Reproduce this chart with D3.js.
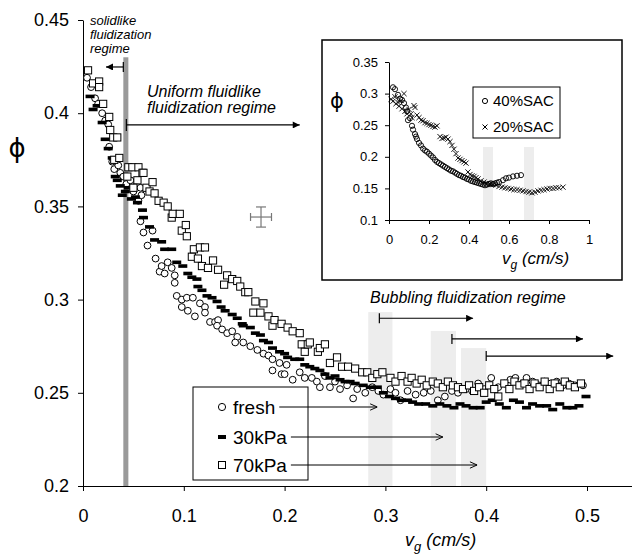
<!DOCTYPE html>
<html>
<head>
<meta charset="utf-8">
<script src="https://cdn.jsdelivr.net/npm/d3@7"></script>
<style>
  body { margin: 0; background: #fff; }
  svg { display: block; font-family: "Liberation Sans", Arial, sans-serif; }
  .axis path, .axis line { stroke: #000; stroke-width: 1; }
  .axis text { fill: #000; }
</style>
</head>
<body>
<div id="chart"></div>
<script>
// ---- data, [vg (cm/s), phi] ----
const fresh = [
  [0.004,0.419],[0.008,0.414],[0.012,0.408],[0.015,0.405],[0.019,0.400],[0.022,0.396],[0.025,0.394],[0.026,0.382],
  [0.029,0.374],[0.031,0.370],[0.035,0.372],[0.037,0.368],[0.040,0.366],[0.043,0.362],[0.047,0.364],[0.050,0.358],
  [0.053,0.361],[0.055,0.353],[0.057,0.360],[0.058,0.356],[0.057,0.342],[0.060,0.336],[0.064,0.329],[0.069,0.337],
  [0.072,0.322],[0.076,0.315],[0.078,0.318],[0.081,0.314],[0.084,0.320],[0.088,0.317],[0.091,0.313],[0.091,0.309],
  [0.093,0.302],[0.098,0.300],[0.103,0.301],[0.109,0.301],[0.098,0.296],[0.104,0.294],[0.111,0.291],[0.116,0.298],
  [0.121,0.296],[0.121,0.293],[0.126,0.288],[0.131,0.288],[0.134,0.289],[0.133,0.286],[0.138,0.284],[0.143,0.282],
  [0.148,0.283],[0.153,0.280],[0.151,0.277],[0.159,0.277],[0.166,0.275],[0.173,0.273],[0.179,0.271],[0.184,0.270],
  [0.188,0.268],[0.195,0.266],[0.202,0.265],[0.188,0.262],[0.197,0.260],[0.200,0.260],[0.208,0.257],[0.215,0.261],
  [0.220,0.258],[0.227,0.258],[0.232,0.256],[0.235,0.253],[0.245,0.253],[0.240,0.259],[0.250,0.256],[0.255,0.252],
  [0.262,0.254],[0.268,0.247],[0.272,0.252],[0.280,0.250],[0.287,0.253],[0.293,0.251],[0.298,0.249],[0.305,0.252],
  [0.310,0.250],[0.315,0.246],[0.322,0.251],[0.330,0.249],[0.338,0.250],[0.345,0.251],[0.352,0.246],[0.359,0.248],
  [0.366,0.251],[0.372,0.250],[0.380,0.252],[0.386,0.251],[0.392,0.255],[0.398,0.252],[0.405,0.258],[0.412,0.253],
  [0.418,0.255],[0.424,0.257],[0.429,0.258],[0.436,0.255],[0.440,0.258],[0.446,0.256],[0.452,0.254],[0.458,0.256],
  [0.464,0.255],[0.470,0.256],[0.476,0.254],[0.482,0.255],[0.488,0.254],[0.496,0.254]
];
const kPa30 = [
  [0.007,0.409],[0.010,0.402],[0.014,0.404],[0.019,0.395],[0.022,0.386],[0.025,0.381],[0.029,0.376],[0.032,0.366],
  [0.034,0.364],[0.037,0.361],[0.039,0.356],[0.042,0.358],[0.045,0.360],[0.048,0.354],[0.052,0.355],[0.054,0.352],
  [0.059,0.348],[0.060,0.344],[0.066,0.339],[0.071,0.332],[0.078,0.331],[0.081,0.327],[0.088,0.327],[0.093,0.320],
  [0.099,0.318],[0.104,0.314],[0.108,0.312],[0.113,0.311],[0.114,0.307],[0.118,0.305],[0.123,0.302],[0.128,0.301],
  [0.133,0.299],[0.137,0.296],[0.141,0.294],[0.148,0.292],[0.153,0.290],[0.158,0.287],[0.159,0.286],[0.166,0.285],
  [0.171,0.282],[0.176,0.281],[0.179,0.278],[0.184,0.277],[0.188,0.274],[0.195,0.272],[0.200,0.271],[0.203,0.269],
  [0.210,0.268],[0.215,0.268],[0.220,0.265],[0.225,0.264],[0.230,0.263],[0.235,0.262],[0.240,0.260],[0.245,0.258],
  [0.250,0.259],[0.255,0.257],[0.260,0.256],[0.265,0.256],[0.270,0.255],[0.278,0.254],[0.285,0.253],[0.292,0.253],
  [0.298,0.250],[0.304,0.248],[0.310,0.247],[0.316,0.246],[0.322,0.246],[0.327,0.245],[0.333,0.244],[0.340,0.244],
  [0.347,0.243],[0.354,0.244],[0.361,0.243],[0.368,0.242],[0.374,0.244],[0.380,0.243],[0.387,0.242],[0.394,0.242],
  [0.400,0.245],[0.406,0.246],[0.413,0.244],[0.420,0.242],[0.427,0.246],[0.433,0.245],[0.440,0.242],[0.446,0.244],
  [0.453,0.243],[0.460,0.243],[0.466,0.241],[0.473,0.244],[0.480,0.242],[0.486,0.242],[0.492,0.243],[0.499,0.248]
];
const kPa70 = [
  [0.005,0.423],[0.010,0.416],[0.016,0.417],[0.016,0.414],[0.020,0.405],[0.026,0.398],[0.027,0.391],[0.030,0.387],
  [0.034,0.387],[0.031,0.375],[0.036,0.376],[0.044,0.366],[0.045,0.371],[0.049,0.371],[0.054,0.364],[0.055,0.371],
  [0.059,0.368],[0.050,0.360],[0.060,0.368],[0.063,0.360],[0.066,0.358],[0.069,0.363],[0.071,0.357],[0.075,0.353],
  [0.080,0.352],[0.084,0.350],[0.088,0.344],[0.089,0.346],[0.096,0.346],[0.098,0.337],[0.102,0.340],[0.103,0.334],
  [0.108,0.323],[0.110,0.327],[0.114,0.322],[0.116,0.328],[0.118,0.318],[0.121,0.328],[0.124,0.317],[0.129,0.321],
  [0.134,0.316],[0.140,0.308],[0.143,0.313],[0.148,0.311],[0.153,0.310],[0.156,0.307],[0.161,0.304],[0.164,0.304],
  [0.169,0.293],[0.171,0.299],[0.176,0.293],[0.179,0.298],[0.184,0.291],[0.188,0.286],[0.190,0.289],[0.197,0.287],
  [0.203,0.285],[0.208,0.283],[0.215,0.282],[0.217,0.276],[0.220,0.272],[0.223,0.276],[0.225,0.277],[0.233,0.272],
  [0.235,0.274],[0.240,0.276],[0.245,0.266],[0.252,0.269],[0.257,0.264],[0.263,0.264],[0.270,0.263],[0.277,0.261],
  [0.282,0.261],[0.287,0.258],[0.292,0.260],[0.297,0.261],[0.305,0.258],[0.310,0.256],[0.316,0.259],[0.322,0.256],
  [0.326,0.258],[0.331,0.255],[0.336,0.257],[0.341,0.254],[0.347,0.256],[0.352,0.255],[0.357,0.253],[0.362,0.256],
  [0.367,0.254],[0.372,0.253],[0.377,0.252],[0.383,0.254],[0.388,0.251],[0.393,0.253],[0.398,0.250],[0.403,0.254],
  [0.408,0.252],[0.412,0.248],[0.418,0.255],[0.423,0.252],[0.428,0.256],[0.433,0.254],[0.438,0.255],[0.443,0.252],
  [0.448,0.255],[0.453,0.253],[0.458,0.256],[0.463,0.252],[0.468,0.255],[0.473,0.253],[0.478,0.256],[0.483,0.254],
  [0.488,0.253],[0.494,0.255]
];
// inset
const sac40 = [
  [0.02,0.310],[0.03,0.307],[0.045,0.298],[0.055,0.292],[0.065,0.290],[0.075,0.285],[0.085,0.278],[0.09,0.272],
  [0.095,0.258],[0.105,0.261],[0.115,0.249],[0.12,0.243],[0.13,0.236],[0.135,0.232],[0.14,0.228],[0.15,0.222],
  [0.16,0.218],[0.17,0.213],[0.18,0.210],[0.19,0.208],[0.2,0.205],[0.21,0.202],[0.22,0.199],[0.23,0.195],
  [0.24,0.192],[0.25,0.190],[0.26,0.188],[0.27,0.186],[0.28,0.184],[0.29,0.182],[0.30,0.180],[0.31,0.178],
  [0.32,0.177],[0.33,0.175],[0.34,0.173],[0.35,0.171],[0.36,0.170],[0.37,0.168],[0.38,0.167],[0.39,0.165],
  [0.40,0.164],[0.41,0.162],[0.42,0.161],[0.43,0.160],[0.44,0.159],[0.45,0.158],[0.46,0.157],[0.47,0.156],
  [0.48,0.155],[0.49,0.156],[0.50,0.157],[0.51,0.158],[0.52,0.157],[0.53,0.158],[0.54,0.159],[0.55,0.160],
  [0.57,0.163],[0.585,0.166],[0.60,0.167],[0.62,0.169],[0.64,0.170],[0.66,0.171]
];
const sac20 = [
  [0.01,0.291],[0.02,0.288],[0.03,0.295],[0.035,0.284],[0.045,0.286],[0.05,0.280],[0.06,0.289],[0.065,0.276],
  [0.075,0.300],[0.08,0.272],[0.09,0.268],[0.10,0.275],[0.11,0.268],[0.115,0.262],[0.125,0.281],[0.13,0.278],
  [0.14,0.266],[0.15,0.262],[0.16,0.258],[0.17,0.257],[0.18,0.254],[0.19,0.253],[0.20,0.251],[0.21,0.250],
  [0.22,0.248],[0.23,0.247],[0.24,0.249],[0.255,0.232],[0.265,0.229],[0.275,0.230],[0.285,0.231],[0.295,0.228],
  [0.305,0.224],[0.315,0.218],[0.325,0.212],[0.335,0.205],[0.345,0.198],[0.355,0.196],[0.365,0.194],[0.375,0.192],
  [0.385,0.190],[0.395,0.176],[0.405,0.172],[0.415,0.170],[0.425,0.169],[0.435,0.167],[0.445,0.165],[0.46,0.162],
  [0.475,0.160],[0.49,0.158],[0.505,0.157],[0.52,0.156],[0.535,0.155],[0.55,0.153],[0.565,0.152],[0.58,0.151],
  [0.595,0.150],[0.61,0.149],[0.625,0.148],[0.64,0.148],[0.655,0.147],[0.67,0.146],[0.685,0.145],[0.70,0.144],
  [0.715,0.143],[0.73,0.144],[0.745,0.146],[0.76,0.147],[0.775,0.148],[0.79,0.149],[0.805,0.150],[0.82,0.150],
  [0.835,0.151],[0.85,0.151],[0.87,0.152]
];

const xTicks = [0, 0.1, 0.2, 0.3, 0.4, 0.5];
const yTicks = [0.2, 0.25, 0.3, 0.35, 0.4, 0.45];
const insetXTicks = [0, 0.2, 0.4, 0.6, 0.8, 1];
const insetYTicks = [0.1, 0.15, 0.2, 0.25, 0.3, 0.35];
const legendLabels = ["fresh", "30kPa", "70kPa"];
const insetLegendLabels = ["40%SAC", "20%SAC"];

// regime annotations, in data units
const solidLine = [0.040, 0.045, 0.430];                 // x0, x1, top phi
const bubblingBands = [[0.283, 0.307, 0.2933], [0.345, 0.370, 0.2832], [0.375, 0.400, 0.274]];
const bubblingArrows = [[0.294, 0.387, 0.290], [0.366, 0.496, 0.2789], [0.400, 0.526, 0.2697]];
const legendArrowEnds = [0.292, 0.357, 0.391];
const insetBands = [[0.47, 0.52], [0.675, 0.725]];
const insetBandTop = 0.2155;
const errBar = [0.1766, 0.3443, 0.0104, 0.0054];         // x, y, half-width, half-height

const W = 632, H = 557;
const svg = d3.select("#chart").append("svg").attr("width", W).attr("height", H);
svg.append("rect").attr("width", W).attr("height", H).attr("fill", "#fff");

const defs = svg.append("defs");
defs.append("marker").attr("id", "tri").attr("viewBox", "0 0 10 10")
  .attr("refX", 10).attr("refY", 5).attr("markerWidth", 9).attr("markerHeight", 7)
  .attr("markerUnits", "userSpaceOnUse").attr("orient", "auto")
  .append("path").attr("d", "M0,0L10,5L0,10Z").attr("fill", "#000");
defs.append("marker").attr("id", "open").attr("viewBox", "0 0 10 10")
  .attr("refX", 10).attr("refY", 5).attr("markerWidth", 8).attr("markerHeight", 8)
  .attr("markerUnits", "userSpaceOnUse").attr("orient", "auto")
  .append("path").attr("d", "M1,1L10,5L1,9").attr("fill", "none").attr("stroke", "#000").attr("stroke-width", 1.2);

// ---- main scales ----
const x = d3.scaleLinear().domain([0, 0.5]).range([83, 587]);
const y = d3.scaleLinear().domain([0.2, 0.45]).range([486, 20]);
const xAxisScale = x.copy().domain([0, x.invert(W)]).range([83, W]);

// shaded bubbling bands and the solidlike boundary line
svg.selectAll(".band").data(bubblingBands).enter().append("rect")
  .attr("x", d => x(d[0])).attr("width", d => x(d[1]) - x(d[0]))
  .attr("y", d => y(d[2])).attr("height", d => y(0.2) - y(d[2]))
  .attr("fill", "#ededed");
svg.append("rect")
  .attr("x", x(solidLine[0])).attr("width", x(solidLine[1]) - x(solidLine[0]))
  .attr("y", y(solidLine[2])).attr("height", y(0.2) - y(solidLine[2]))
  .attr("fill", "#9a9a9a");

// axes
svg.append("g").attr("class", "axis")
  .attr("transform", `translate(0,${y(0.2)})`)
  .call(d3.axisBottom(xAxisScale).tickValues(xTicks).tickSize(5).tickSizeOuter(0).tickPadding(18).tickFormat(d => String(d)))
  .call(g => g.selectAll("text").attr("font-size", 18));
svg.append("g").attr("class", "axis")
  .attr("transform", `translate(${x(0)},0)`)
  .call(d3.axisLeft(y).tickValues(yTicks).tickSize(5).tickSizeOuter(0).tickPadding(9).tickFormat(d => String(d)))
  .call(g => g.selectAll("text").attr("font-size", 18));

svg.append("text").attr("x", 17).attr("y", 157).attr("text-anchor", "middle")
  .attr("font-family", "DejaVu Sans").attr("font-size", 26).text("\u03D5");
const xt = svg.append("text").attr("x", 405).attr("y", 546).attr("font-size", 18).attr("font-style", "italic");
xt.append("tspan").text("v");
xt.append("tspan").attr("font-size", 13).attr("dy", 5).text("g");
xt.append("tspan").attr("dy", -5).text(" (cm/s)");

// error bar symbol
const eb = svg.append("g").attr("stroke", "#777").attr("stroke-width", 1.2);
const [ex, ey, ew, eh] = errBar;
eb.append("line").attr("x1", x(ex - ew)).attr("x2", x(ex + ew)).attr("y1", y(ey)).attr("y2", y(ey));
eb.append("line").attr("x1", x(ex)).attr("x2", x(ex)).attr("y1", y(ey - eh)).attr("y2", y(ey + eh));
eb.append("line").attr("x1", x(ex - ew)).attr("x2", x(ex - ew)).attr("y1", y(ey) - 4).attr("y2", y(ey) + 4);
eb.append("line").attr("x1", x(ex + ew)).attr("x2", x(ex + ew)).attr("y1", y(ey) - 4).attr("y2", y(ey) + 4);
eb.append("line").attr("x1", x(ex) - 5).attr("x2", x(ex) + 5).attr("y1", y(ey + eh)).attr("y2", y(ey + eh));
eb.append("line").attr("x1", x(ex) - 5).attr("x2", x(ex) + 5).attr("y1", y(ey - eh)).attr("y2", y(ey - eh));

// ---- series ----
svg.append("g").selectAll("circle").data(fresh).enter().append("circle")
  .attr("cx", d => x(d[0])).attr("cy", d => y(d[1])).attr("r", 3.4)
  .attr("fill", "#fff").attr("stroke", "#000").attr("stroke-width", 1);
svg.append("g").selectAll("rect").data(kPa30).enter().append("rect")
  .attr("x", d => x(d[0]) - 4.5).attr("y", d => y(d[1]) - 1.8).attr("width", 9).attr("height", 3.6)
  .attr("fill", "#000");
svg.append("g").selectAll("rect").data(kPa70).enter().append("rect")
  .attr("x", d => x(d[0]) - 3.6).attr("y", d => y(d[1]) - 3.6).attr("width", 7.2).attr("height", 7.2)
  .attr("fill", "#fff").attr("stroke", "#000").attr("stroke-width", 1);

// ---- regime annotations ----
const ann = svg.append("g").attr("stroke", "#000").attr("stroke-width", 1.2);
// solidlike: bar tick + arrow to the left
ann.append("line").attr("x1", x(solidLine[0])).attr("x2", x(solidLine[0])).attr("y1", y(0.4248) - 5).attr("y2", y(0.4248) + 5);
ann.append("line").attr("x1", x(solidLine[0])).attr("x2", x(0.0228)).attr("y1", y(0.4248)).attr("y2", y(0.4248))
  .attr("marker-end", "url(#tri)");
// uniform fluidlike
ann.append("line").attr("x1", x(0.043)).attr("x2", x(0.043)).attr("y1", y(0.3937) - 6).attr("y2", y(0.3937) + 6);
ann.append("line").attr("x1", x(0.043)).attr("x2", x(0.215)).attr("y1", y(0.3937)).attr("y2", y(0.3937))
  .attr("marker-end", "url(#tri)");
// bubbling
bubblingArrows.forEach(d => {
  ann.append("line").attr("x1", x(d[0])).attr("x2", x(d[0])).attr("y1", y(d[2]) - 5).attr("y2", y(d[2]) + 5);
  ann.append("line").attr("x1", x(d[0])).attr("x2", x(d[1])).attr("y1", y(d[2])).attr("y2", y(d[2]))
    .attr("marker-end", "url(#tri)");
});

const sl = svg.append("g").attr("font-size", 13).attr("font-style", "italic");
["solidlike", "fluidization", "regime"].forEach((t, i) =>
  sl.append("text").attr("x", 90).attr("y", 25 + i * 14).text(t));
const uf = svg.append("g").attr("font-size", 16).attr("font-style", "italic");
["Uniform fluidlike", "fluidization regime"].forEach((t, i) =>
  uf.append("text").attr("x", 147).attr("y", 97 + i * 16).text(t));
svg.append("text").attr("x", 370).attr("y", 303).attr("font-size", 16).attr("font-style", "italic")
  .text("Bubbling fluidization regime");

// ---- main legend ----
const lg = svg.append("g");
lg.append("rect").attr("x", 193).attr("y", 387).attr("width", 115).attr("height", 93)
  .attr("fill", "#fff").attr("stroke", "#000").attr("stroke-width", 1);
const rowY = [407, 437, 465];
lg.append("circle").attr("cx", 222).attr("cy", rowY[0]).attr("r", 3.6).attr("fill", "#fff").attr("stroke", "#000");
lg.append("rect").attr("x", 218).attr("y", rowY[1] - 2).attr("width", 8).attr("height", 4).attr("fill", "#000");
lg.append("rect").attr("x", 218.5).attr("y", rowY[2] - 3.5).attr("width", 7).attr("height", 7).attr("fill", "#fff").attr("stroke", "#000");
legendLabels.forEach((t, i) => {
  const tx = lg.append("text").attr("x", 233).attr("y", rowY[i] + 7).attr("font-size", 19).text(t);
  const end = 233 + tx.node().getComputedTextLength() + 4;
  lg.append("line").attr("x1", end).attr("x2", x(legendArrowEnds[i])).attr("y1", rowY[i]).attr("y2", rowY[i])
    .attr("stroke", "#000").attr("stroke-width", 1).attr("marker-end", "url(#open)");
});

// ---- inset ----
const ins = svg.append("g");
ins.append("rect").attr("x", 322).attr("y", 40).attr("width", 300).attr("height", 240)
  .attr("fill", "#fff").attr("stroke", "#000").attr("stroke-width", 1.5);
const ix = d3.scaleLinear().domain([0, 1]).range([389, 589]);
const iy = d3.scaleLinear().domain([0.1, 0.35]).range([220, 62]);

ins.selectAll(".iband").data(insetBands).enter().append("rect")
  .attr("x", d => ix(d[0])).attr("width", d => ix(d[1]) - ix(d[0]))
  .attr("y", iy(insetBandTop)).attr("height", iy(0.1) - iy(insetBandTop))
  .attr("fill", "#ededed");

ins.append("g").attr("class", "axis").attr("transform", `translate(0,${iy(0.1)})`)
  .call(d3.axisBottom(ix).tickValues(insetXTicks).tickSize(4).tickSizeOuter(0).tickPadding(11).tickFormat(d => String(d)))
  .call(g => g.selectAll("text").attr("font-size", 13));
ins.append("g").attr("class", "axis").attr("transform", `translate(${ix(0)},0)`)
  .call(d3.axisLeft(iy).tickValues(insetYTicks).tickSize(4).tickSizeOuter(0).tickPadding(7).tickFormat(d => String(d)))
  .call(g => g.selectAll("text").attr("font-size", 13));

ins.append("text").attr("x", 337).attr("y", 108).attr("text-anchor", "middle")
  .attr("font-family", "DejaVu Sans").attr("font-size", 21).text("\u03D5");
const it = ins.append("text").attr("x", 502).attr("y", 264).attr("font-size", 17).attr("font-style", "italic");
it.append("tspan").text("v");
it.append("tspan").attr("font-size", 12).attr("dy", 5).text("g");
it.append("tspan").attr("dy", -5).text(" (cm/s)");

ins.append("g").selectAll("circle").data(sac40).enter().append("circle")
  .attr("cx", d => ix(d[0])).attr("cy", d => iy(d[1])).attr("r", 2.6)
  .attr("fill", "none").attr("stroke", "#000").attr("stroke-width", 0.9);
ins.append("g").selectAll("path").data(sac20).enter().append("path")
  .attr("d", d => { const cx = ix(d[0]), cy = iy(d[1]), s = 2.6;
    return `M${cx - s},${cy - s}L${cx + s},${cy + s}M${cx - s},${cy + s}L${cx + s},${cy - s}`; })
  .attr("stroke", "#000").attr("stroke-width", 0.9);

// inset legend
ins.append("rect").attr("x", 473).attr("y", 87).attr("width", 87).attr("height", 51)
  .attr("fill", "#fff").attr("stroke", "#000").attr("stroke-width", 1);
ins.append("circle").attr("cx", 485).attr("cy", 101).attr("r", 2.6).attr("fill", "none").attr("stroke", "#000");
ins.append("path").attr("d", "M482.5,124.5L487.5,129.5M482.5,129.5L487.5,124.5").attr("stroke", "#000");
insetLegendLabels.forEach((t, i) =>
  ins.append("text").attr("x", 493).attr("y", 106 + i * 26).attr("font-size", 15).text(t));
</script>
</body>
</html>
